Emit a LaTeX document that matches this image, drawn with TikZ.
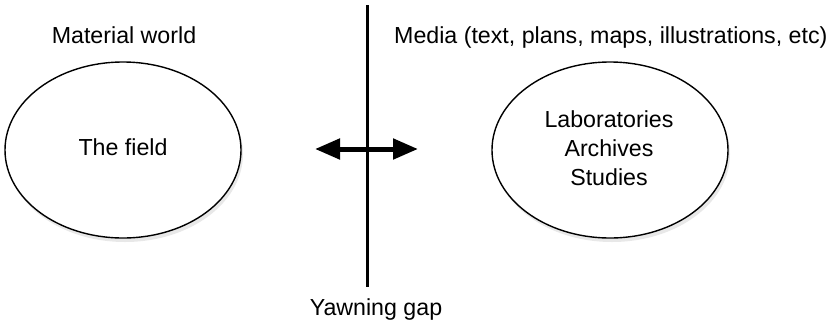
\documentclass[tikz,border=0pt]{standalone}
\usepackage{fontspec}
\setmainfont{Liberation Sans}
\usetikzlibrary{arrows.meta,shadows,shapes.geometric}
\begin{document}
\begin{tikzpicture}[x=1pt,y=-1pt,
  lbl/.style={font=\fontsize{23.2}{29}\selectfont, inner sep=0pt, anchor=base},
  world/.style={draw, line width=1.4pt, fill=white, ellipse, minimum width=236pt, minimum height=176pt,
     drop shadow={opacity=0.18, shadow xshift=2pt, shadow yshift=-4pt}},
  divider/.style={line width=3pt},
  gap/.style={line width=5pt, {Triangle[length=25pt,width=20pt]}-{Triangle[length=25pt,width=20pt]}}]
\useasboundingbox (0,0) rectangle (835,322);
\node[world] (field) at (123,150) {};
\node[world] (lab) at (610,150) {};
\node[lbl] (fieldtxt) at (123,155) {The field};
\node[lbl] (labtxt1) at (609,127) {Laboratories};
\node[lbl] (labtxt2) at (609,156) {Archives};
\node[lbl] (labtxt3) at (609,185) {Studies};
\node[lbl] (material) at (124,43) {Material world};
\node[lbl, anchor=base west] (media) at (394,43) {Media (text, plans, maps, illustrations, etc)};
\node[lbl] (yawn) at (376,315) {Yawning gap};
\coordinate (top) at (367,5);
\coordinate (bot) at (367,287);
\draw[divider] (top) -- (bot);
\coordinate (al) at (315,149);
\coordinate (ar) at (418,149);
\draw[gap] (al) -- (ar);
\end{tikzpicture}
\end{document}
